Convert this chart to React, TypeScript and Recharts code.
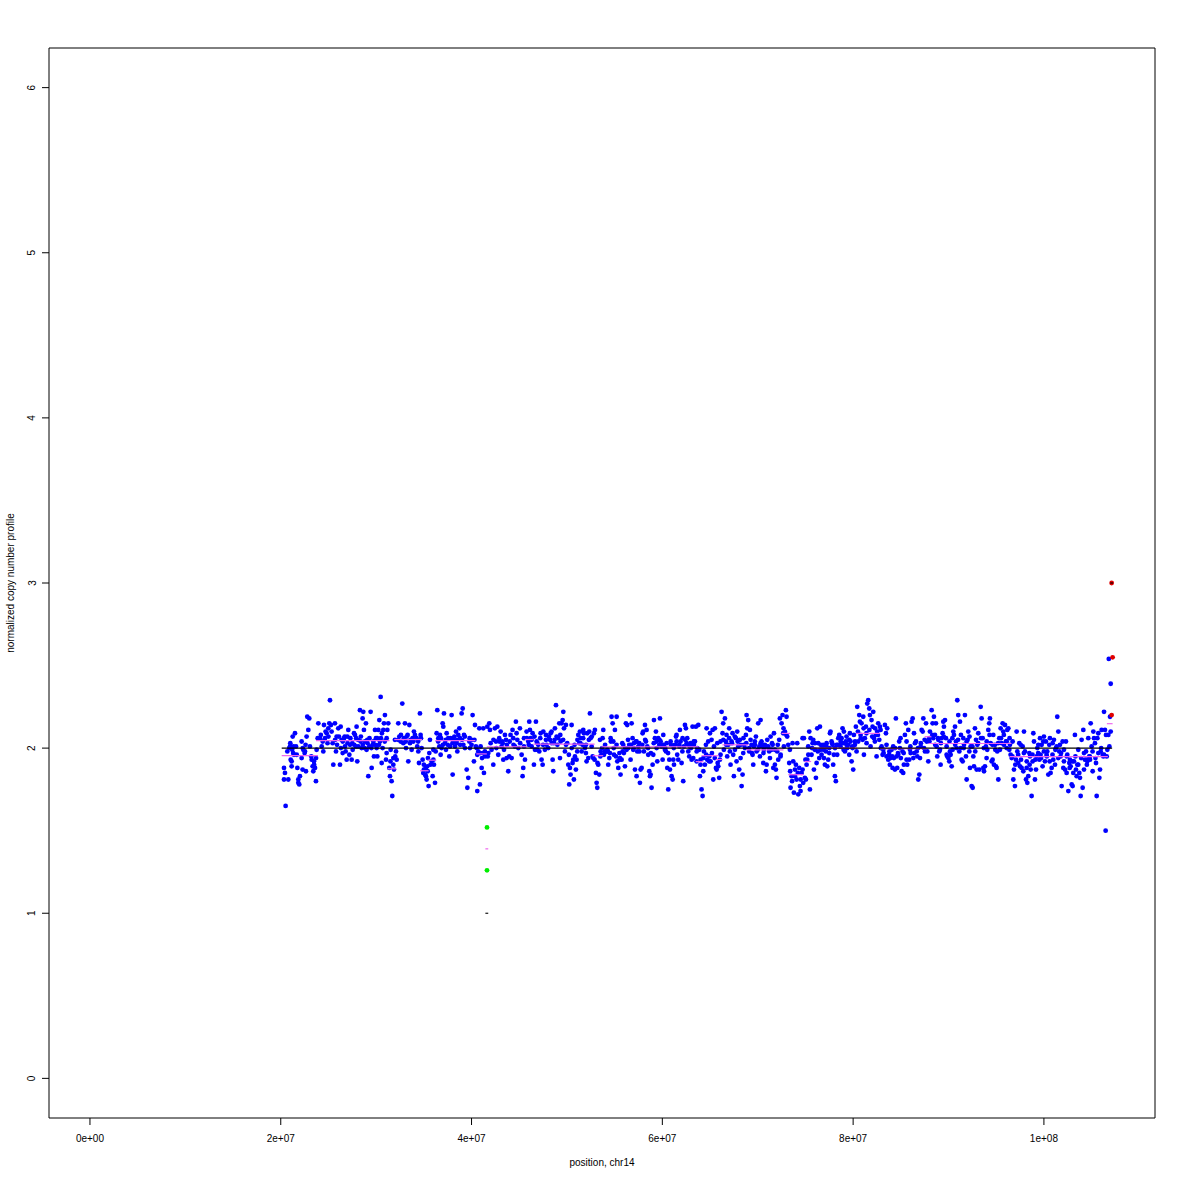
import { ComposedChart, Scatter, XAxis, YAxis, ReferenceArea } from 'recharts';

const FONT = '"Liberation Sans", Arial, Helvetica, sans-serif';

// axis setup (R style: 4% padding around the data range)
const CHR_LENGTH_MB = 107.35;
const X_TICKS = [0, 2e7, 4e7, 6e7, 8e7, 1e8];
const Y_TICKS = [0, 1, 2, 3, 4, 5, 6];

// normalized ratio points, [position in Mb, copy number]
const ratio20to42: [number, number][] = [
  [20.34, 1.88], [20.34, 1.81], [20.51, 1.65], [20.44, 1.85], [20.69, 1.98], [20.79, 1.81], [20.97, 2.01], [21.04, 1.93],
  [21.14, 1.92], [21.14, 1.89], [21.25, 2.07], [21.32, 2.01], [21.39, 1.96], [21.49, 2.09], [21.6, 2.01], [21.67, 1.96],
  [21.74, 1.88], [21.84, 1.81], [21.84, 1.79], [21.94, 1.78], [22.01, 1.83], [22.19, 1.94], [22.19, 2.04], [22.29, 1.87],
  [22.36, 1.99], [22.54, 1.98], [22.64, 1.86], [22.71, 2.07], [22.78, 2.19], [22.89, 2.11], [22.99, 2.18], [23.06, 2.01],
  [23.24, 1.93], [23.34, 1.89], [23.41, 1.86], [23.48, 1.92], [23.59, 1.88], [23.69, 1.8], [23.76, 1.99], [23.87, 2.06],
  [23.94, 2.15], [24.11, 2.06], [24.29, 2.01], [24.46, 1.98], [24.53, 2.14], [24.64, 2.06], [24.81, 2.09], [24.98, 2.12],
  [25.09, 2.15], [25.16, 2.29], [25.26, 2.14], [25.33, 2.1], [25.44, 2.03], [25.51, 1.9], [25.68, 2.15], [25.79, 1.98],
  [25.86, 2.07], [26.03, 2.12], [26.21, 1.9], [26.28, 2.13], [26.38, 2.05], [26.49, 1.97], [26.63, 2.06], [26.73, 2.01],
  [26.91, 1.93], [26.98, 2.07], [27.08, 2.11], [27.19, 1.96], [27.26, 2.02], [27.43, 1.93], [27.54, 1.99], [27.68, 2.09],
  [27.78, 2.08], [27.88, 2.01], [27.95, 2.13], [28.02, 1.92], [28.13, 2.01], [28.3, 2.23], [28.37, 2.04], [28.48, 2.0],
  [28.58, 2.18], [28.65, 2.22], [28.72, 2.11], [28.83, 2.04], [28.93, 2.15], [29.0, 1.99], [29.07, 2.05], [29.18, 1.83],
  [29.28, 2.01], [29.42, 2.22], [29.53, 1.88], [29.63, 2.02], [29.77, 1.95], [29.88, 2.11], [29.98, 2.06], [30.05, 2.0],
  [30.12, 1.95], [30.23, 2.11], [30.33, 2.17], [30.4, 2.04], [30.47, 2.31], [30.58, 1.91], [30.68, 2.0], [30.75, 2.11],
  [30.82, 2.15], [30.92, 2.2], [31.03, 1.93], [31.1, 1.97], [31.17, 2.11], [31.27, 2.15], [31.38, 1.88], [31.45, 1.83],
  [31.52, 1.99], [31.62, 1.8], [31.69, 1.71], [31.8, 1.94], [31.87, 1.87], [31.97, 2.05], [32.08, 1.98], [32.15, 1.93],
  [32.32, 2.15], [32.43, 2.07], [32.57, 2.04], [32.74, 2.27], [32.85, 2.03], [33.02, 2.15], [33.13, 2.0], [33.2, 2.07],
  [33.37, 1.92], [33.48, 2.14], [33.55, 2.03], [33.72, 1.99], [33.82, 2.06], [33.96, 2.1], [34.07, 2.08], [34.24, 2.06],
  [34.31, 2.01], [34.42, 1.98], [34.49, 1.91], [34.59, 2.21], [34.66, 2.08], [34.77, 2.0], [34.87, 1.93], [34.94, 1.85],
  [35.01, 1.87], [35.12, 1.84], [35.22, 1.83], [35.29, 1.81], [35.36, 1.89], [35.43, 1.94], [35.5, 1.77], [35.57, 1.97],
  [35.64, 2.05], [35.82, 1.92], [35.92, 1.83], [35.99, 1.99], [36.06, 1.9], [36.17, 1.79], [36.24, 1.98], [36.34, 2.09],
  [36.41, 2.23], [36.52, 2.06], [36.62, 2.01], [36.69, 2.08], [36.76, 1.96], [36.86, 2.0], [36.97, 2.15], [37.04, 2.13],
  [37.11, 2.21], [37.21, 2.03], [37.32, 1.99], [37.39, 2.09], [37.56, 2.06], [37.67, 1.95], [37.74, 2.01], [37.91, 2.2],
  [38.02, 1.84], [38.09, 2.06], [38.16, 2.04], [38.26, 2.01], [38.37, 2.1], [38.44, 2.03], [38.51, 1.98], [38.61, 2.08],
  [38.72, 2.12], [38.79, 2.06], [38.96, 2.21], [39.07, 2.24], [39.14, 2.02], [39.21, 2.08], [39.31, 2.0], [39.49, 1.87],
  [39.56, 1.76], [39.66, 1.82], [39.77, 2.04], [39.83, 2.0], [40.01, 2.05], [40.11, 2.2], [40.25, 1.92], [40.36, 2.14],
  [40.46, 2.01], [40.53, 2.0], [40.6, 1.74], [40.71, 1.98], [40.81, 2.12], [40.88, 1.78], [40.95, 2.01], [41.06, 1.88],
  [41.16, 1.97], [41.23, 2.12], [41.3, 1.85], [41.41, 1.95], [41.58, 1.96], [41.65, 2.13], [41.76, 1.97], [41.86, 2.15],
];

const ratio42to64: [number, number][] = [
  [41.93, 2.11], [42.1, 1.99], [42.28, 1.9], [42.45, 2.12], [42.56, 2.04], [42.7, 2.13], [42.8, 1.96], [42.91, 2.04],
  [43.05, 2.1], [43.15, 2.01], [43.26, 2.03], [43.33, 1.93], [43.5, 2.08], [43.61, 2.05], [43.68, 1.94], [43.85, 1.86],
  [43.95, 1.95], [44.09, 2.08], [44.2, 1.94], [44.3, 2.11], [44.37, 2.06], [44.55, 2.01], [44.65, 2.16], [44.72, 2.09],
  [44.9, 2.0], [45.07, 2.12], [45.25, 1.96], [45.35, 1.83], [45.42, 1.88], [45.49, 2.01], [45.6, 1.93], [45.77, 2.1],
  [45.95, 2.04], [46.05, 2.16], [46.12, 2.11], [46.19, 2.06], [46.3, 2.01], [46.4, 2.09], [46.54, 1.9], [46.65, 1.99],
  [46.75, 2.16], [46.82, 2.04], [46.89, 1.99], [46.99, 2.02], [47.1, 1.98], [47.24, 2.09], [47.34, 1.93], [47.45, 1.9],
  [47.52, 2.1], [47.69, 1.99], [47.8, 2.08], [47.87, 2.02], [48.04, 2.0], [48.22, 2.05], [48.29, 2.09], [48.39, 2.1],
  [48.5, 1.93], [48.57, 1.86], [48.64, 2.03], [48.74, 2.12], [48.85, 2.26], [48.92, 2.07], [49.09, 2.06], [49.2, 2.15],
  [49.27, 1.94], [49.34, 2.04], [49.44, 2.15], [49.55, 2.17], [49.62, 2.22], [49.69, 2.12], [49.79, 1.98], [49.89, 2.14],
  [50.03, 2.03], [50.14, 1.9], [50.24, 1.78], [50.31, 1.88], [50.38, 1.84], [50.49, 2.14], [50.59, 1.91], [50.66, 1.93],
  [50.73, 1.81], [50.84, 1.95], [50.94, 1.87], [51.01, 1.93], [51.08, 1.98], [51.19, 2.08], [51.29, 2.03], [51.36, 2.1],
  [51.43, 2.06], [51.54, 1.98], [51.64, 2.02], [51.71, 2.11], [51.78, 2.09], [51.89, 2.0], [51.99, 1.97], [52.06, 1.92],
  [52.13, 2.09], [52.24, 1.94], [52.34, 2.1], [52.41, 2.21], [52.48, 2.06], [52.59, 2.01], [52.69, 1.95], [52.76, 1.94],
  [52.83, 2.09], [52.93, 2.11], [53.04, 1.85], [53.11, 1.79], [53.18, 1.76], [53.28, 1.9], [53.39, 1.84], [53.46, 2.05],
  [53.53, 1.98], [53.63, 1.96], [53.74, 2.06], [53.81, 2.11], [53.88, 1.96], [53.98, 1.98], [54.09, 1.98], [54.16, 1.98],
  [54.23, 1.99], [54.33, 1.9], [54.44, 1.94], [54.51, 1.97], [54.58, 2.06], [54.68, 2.19], [54.79, 2.15], [54.86, 2.04],
  [54.93, 1.96], [55.03, 2.11], [55.14, 1.95], [55.21, 2.19], [55.28, 1.92], [55.38, 1.88], [55.49, 1.93], [55.56, 1.94],
  [55.62, 1.84], [55.73, 1.93], [55.83, 1.98], [55.9, 2.02], [55.97, 1.97], [56.08, 1.89], [56.18, 2.15], [56.25, 1.99],
  [56.32, 2.14], [56.43, 2.0], [56.53, 2.02], [56.6, 2.2], [56.67, 1.93], [56.78, 2.15], [56.88, 2.06], [56.95, 1.99],
  [57.02, 2.03], [57.13, 1.87], [57.23, 2.04], [57.3, 1.83], [57.37, 1.98], [57.48, 2.01], [57.58, 2.03], [57.65, 1.79],
  [57.72, 1.87], [57.83, 1.88], [57.93, 2.09], [58.0, 2.1], [58.07, 1.98], [58.18, 2.14], [58.28, 2.04], [58.35, 2.11],
  [58.42, 2.01], [58.52, 1.96], [58.63, 1.86], [58.7, 1.83], [58.77, 1.84], [58.87, 1.76], [58.98, 1.9], [59.05, 1.96],
  [59.12, 2.17], [59.22, 2.06], [59.33, 2.1], [59.4, 2.04], [59.47, 1.92], [59.57, 2.06], [59.68, 2.02], [59.75, 2.18],
  [59.82, 2.04], [59.92, 2.01], [60.03, 1.93], [60.1, 2.08], [60.17, 2.02], [60.27, 1.99], [60.38, 1.98], [60.45, 2.03],
  [60.52, 1.88], [60.62, 1.75], [60.73, 1.93], [60.8, 1.87], [60.87, 2.04], [60.97, 1.83], [61.08, 1.81], [61.15, 1.93],
  [61.22, 1.9], [61.32, 2.02], [61.43, 2.07], [61.49, 2.08], [61.56, 1.96], [61.67, 1.93], [61.77, 2.02], [61.84, 2.11],
  [61.91, 2.04], [62.02, 1.91], [62.12, 2.06], [62.19, 1.8], [62.26, 2.01], [62.37, 2.14], [62.47, 2.12], [62.54, 2.03],
  [62.61, 2.06], [62.72, 1.98], [62.82, 1.95], [62.89, 2.01], [62.96, 2.03], [63.07, 1.93], [63.17, 2.13], [63.24, 1.94],
  [63.31, 2.02], [63.42, 2.04], [63.52, 2.13], [63.59, 1.92], [63.66, 2.0], [63.77, 2.14], [63.87, 1.99],
];

const ratio64to86: [number, number][] = [
  [63.94, 1.83], [64.01, 1.93], [64.11, 1.75], [64.22, 1.71], [64.29, 1.86], [64.36, 1.98], [64.46, 1.9], [64.57, 2.02],
  [64.64, 2.12], [64.71, 1.93], [64.81, 2.04], [64.92, 1.95], [64.99, 2.09], [65.06, 1.92], [65.16, 2.05], [65.27, 2.11],
  [65.34, 1.81], [65.41, 2.01], [65.51, 2.12], [65.62, 1.88], [65.69, 1.87], [65.76, 2.03], [65.86, 1.89], [65.96, 1.82],
  [66.03, 1.93], [66.1, 2.04], [66.21, 2.22], [66.31, 2.09], [66.38, 2.15], [66.45, 1.99], [66.56, 2.18], [66.66, 2.04],
  [66.73, 2.08], [66.8, 1.95], [66.91, 2.02], [67.01, 2.12], [67.08, 1.98], [67.15, 1.9], [67.26, 2.04], [67.36, 2.09],
  [67.43, 1.96], [67.5, 1.83], [67.61, 1.99], [67.71, 2.06], [67.78, 1.92], [67.85, 2.1], [67.96, 2.01], [68.06, 1.87],
  [68.13, 2.05], [68.2, 1.94], [68.31, 1.77], [68.41, 1.84], [68.48, 1.97], [68.55, 2.02], [68.66, 2.0], [68.76, 2.08],
  [68.83, 2.2], [68.9, 2.12], [69.0, 2.17], [69.11, 1.98], [69.18, 2.11], [69.25, 2.05], [69.35, 2.02], [69.46, 1.96],
  [69.53, 1.9], [69.6, 2.01], [69.7, 2.04], [69.81, 2.07], [69.88, 1.98], [70.05, 2.15], [70.16, 2.01], [70.23, 1.95],
  [70.3, 2.17], [70.4, 2.04], [70.51, 2.01], [70.58, 1.91], [70.65, 1.99], [70.75, 2.02], [70.86, 1.86], [70.93, 1.9],
  [71.0, 2.05], [71.1, 2.01], [71.21, 1.99], [71.28, 1.94], [71.35, 2.07], [71.45, 1.99], [71.56, 2.02], [71.63, 1.88],
  [71.7, 2.09], [71.8, 1.9], [71.9, 1.87], [71.97, 1.82], [72.04, 1.98], [72.15, 1.93], [72.25, 2.05], [72.32, 2.18],
  [72.39, 1.95], [72.5, 2.15], [72.6, 2.2], [72.67, 2.09], [72.74, 2.01], [72.85, 2.1], [72.95, 2.23], [73.02, 2.19],
  [73.09, 2.07], [73.2, 2.02], [73.3, 1.91], [73.37, 1.99], [73.44, 1.76], [73.55, 1.83], [73.65, 2.03], [73.72, 1.92],
  [73.79, 1.73], [73.9, 1.87], [74.0, 1.9], [74.07, 1.81], [74.14, 2.03], [74.25, 1.72], [74.35, 1.88], [74.42, 1.77],
  [74.49, 1.74], [74.6, 1.85], [74.7, 2.06], [74.77, 1.79], [74.84, 2.06], [74.94, 1.82], [75.05, 1.81], [75.12, 1.9],
  [75.19, 1.93], [75.29, 2.01], [75.4, 2.1], [75.47, 1.75], [75.54, 2.06], [75.64, 1.96], [75.75, 2.03], [75.82, 2.05],
  [75.89, 1.87], [75.99, 1.99], [76.1, 1.82], [76.17, 1.91], [76.24, 2.12], [76.34, 2.03], [76.45, 1.94], [76.52, 2.13],
  [76.59, 1.99], [76.69, 1.96], [76.8, 2.01], [76.87, 2.02], [76.94, 1.94], [77.04, 1.9], [77.15, 1.98], [77.22, 2.03],
  [77.29, 1.89], [77.39, 1.93], [77.5, 2.0], [77.57, 2.09], [77.63, 2.1], [77.74, 2.04], [77.84, 2.02], [77.91, 1.9],
  [77.98, 1.96], [78.09, 1.83], [78.19, 1.8], [78.26, 2.02], [78.33, 1.96], [78.44, 2.06], [78.54, 2.08], [78.61, 2.02],
  [78.68, 2.01], [78.79, 2.06], [78.89, 2.12], [78.96, 2.03], [79.03, 2.1], [79.14, 1.98], [79.24, 2.04], [79.31, 2.07],
  [79.38, 2.0], [79.49, 2.02], [79.59, 1.96], [79.66, 2.09], [79.73, 2.04], [79.84, 1.92], [79.94, 2.0], [80.01, 1.87],
  [80.08, 2.08], [80.19, 2.02], [80.29, 2.13], [80.36, 1.98], [80.43, 2.25], [80.53, 2.04], [80.64, 2.2], [80.71, 2.16],
  [80.78, 2.08], [80.88, 2.15], [80.99, 2.05], [81.06, 2.19], [81.13, 1.96], [81.23, 2.06], [81.34, 2.13], [81.41, 2.03],
  [81.48, 2.27], [81.58, 2.29], [81.69, 2.24], [81.76, 2.2], [81.83, 2.01], [81.93, 2.17], [82.04, 2.13], [82.11, 2.22],
  [82.18, 2.06], [82.28, 2.04], [82.39, 2.08], [82.46, 1.95], [82.53, 2.1], [82.63, 2.15], [82.74, 2.05], [82.81, 2.13],
  [82.88, 2.11], [82.98, 2.01], [83.09, 1.96], [83.16, 1.99], [83.33, 2.14], [83.44, 2.09], [83.5, 1.95], [83.57, 2.12],
  [83.68, 1.93], [83.78, 1.96], [83.85, 1.9], [83.92, 1.94], [84.03, 1.99], [84.13, 1.88], [84.2, 2.01], [84.27, 1.94],
  [84.38, 1.87], [84.48, 2.18], [84.55, 1.95], [84.62, 1.88], [84.73, 1.96], [84.83, 2.04], [84.9, 2.0], [84.97, 2.06],
  [85.08, 1.86], [85.18, 1.98], [85.25, 1.85], [85.32, 1.9], [85.43, 2.08], [85.53, 2.15], [85.6, 2.04], [85.67, 1.9],
  [85.78, 2.11], [85.88, 1.93],
];

const ratio86to107: [number, number][] = [
  [85.96, 1.99], [86.03, 1.97], [86.13, 2.16], [86.24, 2.18], [86.31, 1.94], [86.38, 2.09], [86.48, 2.03], [86.59, 2.04],
  [86.66, 1.98], [86.73, 1.95], [86.83, 1.81], [86.94, 1.84], [87.01, 1.94], [87.08, 2.01], [87.18, 2.11], [87.29, 2.1],
  [87.36, 2.18], [87.43, 2.0], [87.53, 1.98], [87.64, 2.15], [87.71, 2.04], [87.78, 1.98], [87.88, 1.92], [87.98, 2.06],
  [88.05, 2.1], [88.23, 2.23], [88.33, 2.15], [88.4, 2.06], [88.47, 2.19], [88.58, 2.08], [88.68, 2.15], [88.75, 2.01],
  [88.82, 1.95], [88.93, 2.05], [89.03, 1.98], [89.1, 1.99], [89.17, 1.9], [89.28, 2.06], [89.38, 2.09], [89.45, 2.16],
  [89.52, 2.13], [89.63, 2.17], [89.73, 2.06], [89.8, 1.96], [89.87, 1.95], [89.98, 1.94], [90.08, 1.92], [90.15, 1.98],
  [90.22, 1.96], [90.33, 1.89], [90.43, 1.99], [90.5, 2.1], [90.57, 2.08], [90.68, 2.13], [90.78, 2.04], [90.85, 2.0],
  [90.92, 2.29], [91.02, 2.2], [91.13, 1.98], [91.2, 2.16], [91.27, 2.0], [91.37, 1.93], [91.48, 1.92], [91.55, 2.06],
  [91.62, 2.02], [91.72, 2.2], [91.83, 1.95], [91.9, 1.81], [92.0, 2.05], [92.07, 2.1], [92.18, 1.98], [92.25, 1.88],
  [92.32, 2.01], [92.42, 1.77], [92.53, 1.76], [92.6, 1.95], [92.67, 1.89], [92.77, 2.12], [92.88, 2.05], [92.95, 1.87],
  [93.02, 2.02], [93.12, 2.09], [93.23, 1.87], [93.37, 2.25], [93.47, 2.18], [93.58, 2.06], [93.65, 1.88], [93.72, 1.86],
  [93.82, 1.89], [93.92, 2.01], [93.99, 1.94], [94.06, 1.99], [94.17, 2.11], [94.27, 2.15], [94.34, 2.18], [94.41, 2.03],
  [94.52, 1.92], [94.62, 1.93], [94.69, 2.08], [94.76, 1.9], [94.87, 2.02], [94.97, 1.89], [95.04, 1.88], [95.11, 1.98],
  [95.22, 1.81], [95.32, 2.06], [95.39, 1.99], [95.46, 2.12], [95.57, 2.03], [95.67, 2.15], [95.74, 2.1], [95.81, 2.02],
  [95.92, 2.14], [96.02, 2.04], [96.09, 2.0], [96.16, 2.11], [96.27, 2.12], [96.37, 1.99], [96.44, 2.02], [96.51, 1.96],
  [96.62, 1.94], [96.72, 2.04], [96.79, 1.81], [96.86, 1.87], [96.96, 1.77], [97.07, 1.93], [97.14, 2.1], [97.21, 1.98],
  [97.31, 1.91], [97.42, 2.03], [97.49, 1.89], [97.56, 2.02], [97.66, 1.88], [97.77, 2.01], [97.84, 1.86], [97.91, 2.1],
  [98.01, 1.98], [98.12, 1.81], [98.19, 1.88], [98.26, 1.79], [98.36, 1.83], [98.47, 1.97], [98.54, 1.95], [98.61, 1.87],
  [98.71, 1.71], [98.82, 1.92], [98.89, 2.09], [98.96, 2.04], [99.06, 1.81], [99.17, 1.87], [99.24, 1.95], [99.31, 2.0],
  [99.41, 2.02], [99.52, 1.93], [99.59, 2.06], [99.65, 1.96], [99.76, 2.02], [99.86, 1.89], [99.93, 2.04], [100.0, 2.07],
  [100.11, 1.92], [100.21, 2.04], [100.28, 1.96], [100.35, 1.98], [100.46, 1.84], [100.56, 2.02], [100.63, 2.06], [100.7, 1.85],
  [100.81, 1.88], [100.91, 2.03], [100.98, 1.93], [101.05, 2.05], [101.16, 1.9], [101.26, 2.0], [101.33, 2.01], [101.4, 2.19],
  [101.51, 2.1], [101.61, 1.98], [101.68, 2.02], [101.75, 1.95], [101.86, 1.77], [101.96, 2.04], [102.03, 1.88], [102.1, 1.99],
  [102.21, 1.87], [102.31, 2.04], [102.38, 1.85], [102.45, 1.96], [102.56, 1.74], [102.66, 1.91], [102.73, 1.93], [102.8, 1.89],
  [102.91, 1.78], [103.01, 1.77], [103.08, 1.85], [103.15, 1.92], [103.25, 2.08], [103.36, 1.87], [103.43, 1.83], [103.5, 1.9],
  [103.6, 1.99], [103.71, 1.85], [103.78, 1.82], [103.85, 1.71], [103.95, 2.05], [104.06, 1.76], [104.13, 2.11], [104.2, 1.87],
  [104.3, 1.93], [104.41, 1.98], [104.48, 1.93], [104.55, 1.92], [104.65, 2.06], [104.76, 1.95], [104.83, 1.93], [104.9, 2.15],
  [105.0, 2.01], [105.11, 1.86], [105.18, 2.1], [105.25, 2.06], [105.35, 2.03], [105.46, 1.91], [105.53, 1.71], [105.6, 2.06],
  [105.7, 2.09], [105.81, 1.82], [105.88, 1.87], [105.95, 1.98], [106.05, 2.11], [106.16, 1.96], [106.23, 1.95], [106.3, 2.22],
  [106.4, 2.11], [106.47, 1.5], [106.51, 2.08], [106.58, 1.95], [106.65, 1.99], [106.75, 2.08], [106.8, 2.54], [106.86, 2.01],
  [106.93, 2.19], [107.0, 2.1], [107.0, 2.39],
];

// points from the crowded middle of the band, read cluster by cluster
const band20to64: [number, number][] = [
  [20.9, 2.0], [21.0, 2.03], [21.2, 1.99], [21.3, 1.97], [22.3, 2.0], [22.5, 1.97], [22.6, 2.02], [23.2, 1.95],
  [23.5, 1.9], [23.7, 1.94], [24.2, 2.08], [24.4, 2.04], [24.7, 2.1], [24.9, 2.03], [25.0, 2.07], [25.7, 2.05],
  [25.9, 2.02], [26.1, 2.07], [26.3, 2.0], [26.5, 2.04], [26.7, 2.07], [26.8, 1.98], [27.0, 2.03], [27.3, 2.06],
  [27.5, 2.03], [27.7, 2.02], [27.9, 2.06], [28.1, 2.05], [28.4, 2.07], [28.6, 2.02], [28.8, 2.0], [29.1, 2.03],
  [29.3, 2.06], [29.5, 2.0], [29.7, 2.04], [29.9, 2.02], [30.1, 2.06], [30.3, 2.02], [30.5, 2.06], [30.6, 2.09],
  [30.9, 2.04], [31.1, 2.06], [31.5, 1.92], [31.8, 1.9], [32.0, 1.95], [32.3, 2.05], [32.6, 2.08], [32.9, 2.06],
  [33.1, 2.04], [33.3, 2.08], [33.6, 2.05], [33.9, 2.04], [34.1, 2.06], [34.4, 2.04], [34.7, 2.06], [35.0, 1.9],
  [35.2, 1.88], [35.4, 1.86], [35.7, 1.9], [36.0, 1.93], [36.5, 2.04], [36.8, 2.06], [37.0, 2.02], [37.3, 2.05],
  [37.5, 2.02], [37.8, 2.06], [38.0, 2.03], [38.2, 2.07], [38.5, 2.05], [38.8, 2.02], [39.0, 2.05], [39.3, 2.07],
  [39.8, 2.06], [40.0, 2.02], [40.3, 2.05], [40.6, 1.96], [40.9, 1.97], [41.1, 1.94], [41.4, 1.98], [41.7, 1.95],
  [42.0, 2.03], [42.3, 2.05], [42.6, 2.0], [42.9, 2.06], [43.2, 2.04], [43.4, 1.99], [43.7, 2.02], [44.0, 2.04],
  [44.4, 2.02], [44.8, 2.05], [45.1, 2.03], [45.5, 2.06], [45.8, 2.06], [46.0, 2.02], [46.3, 2.05], [46.6, 2.07],
  [46.9, 2.03], [47.2, 2.06], [47.5, 2.02], [47.8, 2.05], [48.1, 2.07], [48.4, 2.03], [48.7, 2.05], [49.0, 2.02],
  [49.3, 2.08], [49.6, 2.05], [49.9, 2.02], [50.2, 1.96], [50.5, 2.0], [50.8, 2.02], [51.1, 2.05], [51.4, 2.03],
  [51.7, 2.06], [52.0, 2.02], [52.3, 2.05], [52.6, 2.07], [52.9, 1.93], [53.2, 1.91], [53.5, 1.95], [53.7, 2.0],
  [54.0, 2.02], [54.3, 1.98], [54.6, 2.04], [54.9, 2.0], [55.2, 2.02], [55.5, 1.97], [55.8, 2.03], [56.1, 2.0],
  [56.4, 2.05], [56.7, 2.02], [57.0, 2.0], [57.3, 2.04], [57.6, 1.98], [57.9, 2.02], [58.2, 2.05], [58.5, 2.0],
  [58.8, 1.97], [59.1, 2.03], [59.4, 2.0], [59.7, 2.05], [60.0, 2.02], [60.3, 2.0], [60.6, 1.97], [60.9, 2.02],
  [61.2, 2.0], [61.5, 2.04], [61.8, 2.01], [62.1, 1.98], [62.4, 2.05], [62.7, 2.02], [63.0, 2.0], [63.3, 2.04],
  [63.6, 1.98],
];

const band64to107: [number, number][] = [
  [64.0, 1.9], [64.3, 1.94], [64.6, 1.96], [64.9, 1.92], [65.2, 1.97], [65.5, 1.94], [65.8, 1.91], [66.1, 1.96],
  [66.4, 2.05], [66.7, 2.02], [67.0, 2.06], [67.3, 2.03], [67.6, 2.07], [67.9, 2.04], [68.2, 2.02], [68.5, 2.06],
  [68.8, 2.03], [69.1, 2.0], [69.4, 1.97], [69.7, 2.02], [70.0, 1.99], [70.3, 2.03], [70.6, 1.97], [70.9, 2.01],
  [71.2, 1.98], [71.5, 2.03], [71.8, 1.99], [72.1, 2.02], [72.4, 1.96], [72.7, 2.12], [73.0, 2.08], [73.4, 1.86],
  [73.6, 1.8], [73.9, 1.83], [74.2, 1.85], [74.5, 1.81], [74.7, 1.87], [75.0, 1.93], [75.3, 1.96], [75.7, 2.0],
  [76.0, 2.03], [76.3, 1.98], [76.6, 2.02], [76.9, 1.99], [77.2, 2.01], [77.5, 1.97], [77.8, 2.03], [78.1, 2.0],
  [78.4, 2.02], [78.7, 2.04], [79.0, 1.99], [79.3, 2.02], [79.6, 2.05], [79.9, 2.01], [80.2, 2.04], [80.5, 2.1],
  [80.8, 2.06], [81.1, 2.12], [81.4, 2.09], [81.7, 2.11], [82.0, 2.07], [82.3, 2.12], [82.6, 2.08], [82.9, 2.0],
  [83.2, 1.97], [83.5, 2.02], [83.8, 1.98], [84.1, 1.95], [84.4, 2.0], [84.7, 1.97], [85.0, 1.94], [85.3, 1.97],
  [85.6, 1.93], [86.0, 2.01], [86.4, 1.97], [86.8, 2.0], [87.1, 2.03], [87.5, 2.05], [88.0, 2.04], [88.3, 2.08],
  [88.6, 2.02], [88.9, 2.06], [89.2, 2.03], [89.5, 2.07], [89.8, 2.01], [90.1, 2.04], [90.4, 2.06], [90.7, 2.02],
  [91.0, 2.05], [91.3, 2.08], [91.6, 2.0], [91.9, 2.04], [92.2, 2.07], [92.5, 2.01], [92.8, 1.98], [93.1, 2.03],
  [93.4, 2.06], [93.7, 2.0], [94.0, 2.04], [94.3, 2.08], [94.6, 2.02], [94.9, 1.99], [95.2, 2.03], [95.5, 2.06],
  [95.8, 2.08], [96.1, 2.04], [96.4, 2.06], [96.7, 1.95], [97.0, 1.9], [97.3, 1.96], [97.6, 1.93], [97.9, 1.97],
  [98.2, 1.92], [98.5, 1.9], [98.8, 1.96], [99.1, 1.93], [99.4, 1.97], [99.7, 1.94], [100.0, 1.98], [100.3, 1.95],
  [100.6, 1.92], [100.9, 1.96], [101.2, 1.99], [101.5, 1.94], [101.8, 1.97], [102.1, 1.92], [102.4, 1.95], [102.7, 1.88],
  [103.0, 1.92], [103.3, 1.95], [103.6, 1.9], [103.9, 1.94], [104.2, 1.97], [104.5, 1.9], [104.8, 1.95], [105.1, 1.98],
  [105.4, 1.94], [105.7, 1.97], [106.0, 2.0], [106.3, 1.96],
];

// points called as loss / gain
const lossPoints: [number, number][] = [[41.62, 1.52], [41.62, 1.26]];
const gainPoints: [number, number][] = [[107.1, 3.0], [107.2, 2.55], [107.1, 2.2]];

// segment means, [start Mb, end Mb, level]
const segmentMeans: [number, number, number][] = [
  [20.1, 23.9, 1.954], [23.7, 31.4, 2.045], [31.2, 32.1, 1.875], [31.9, 34.8, 2.052], [34.6, 35.5, 1.863],
  [35.4, 36.3, 1.927], [36.2, 40.4, 2.045], [40.5, 41.6, 1.965], [41.6, 45.8, 2.008], [45.6, 46.5, 2.052],
  [46.5, 52.9, 2.024], [52.7, 53.8, 1.954], [53.6, 63.8, 2.008], [63.5, 64.3, 1.918], [64.1, 65.9, 1.954],
  [65.6, 66.3, 1.931], [66.3, 69.0, 2.02], [68.8, 72.7, 1.99], [72.5, 73.4, 2.089], [73.2, 74.8, 1.839],
  [74.9, 75.6, 1.919], [75.6, 80.4, 2.0], [80.3, 82.8, 2.089], [82.8, 87.7, 1.997], [87.5, 88.2, 2.069],
  [87.9, 96.6, 2.028], [96.4, 106.7, 1.948], [106.6, 107.2, 2.148], [41.45, 41.75, 1.39],
];

// copy number calls, [start Mb, end Mb, copies]
const copyNumberCalls: [number, number, number][] = [
  [20.1, 107.15, 2], [41.45, 41.75, 1], [106.95, 107.25, 3],
];

const toPoints = (rows: [number, number][]) => rows.map(([mb, v]) => ({ x: mb * 1e6, y: v }));
const toSegment = ([s, e, v]: [number, number, number]) => [
  { x: s * 1e6, y: v },
  { x: e * 1e6, y: v },
];

const ratioPoints = toPoints([
  ...ratio20to42, ...ratio42to64, ...ratio64to86, ...ratio86to107, ...band20to64, ...band64to107,
]);
const lossData = toPoints(lossPoints);
const gainData = toPoints(gainPoints);

const X_DOMAIN = [-0.04 * CHR_LENGTH_MB * 1e6, 1.04 * CHR_LENGTH_MB * 1e6];
const Y_DOMAIN = [-0.24, 6.24];

// R style scientific labels: 0e+00, 2e+07, 1e+08
const sci = (v: number) => {
  if (v === 0) return '0e+00';
  const e = Math.floor(Math.log10(v));
  const m = Math.round(v / 10 ** e);
  return `${m}e+${String(e).padStart(2, '0')}`;
};

const dot = (color: string) => (props: any) => (
  <circle cx={props.cx} cy={props.cy} r={2.4} fill={color} />
);
const noDot = () => <g />;

const YTick = ({ x, y, payload }: any) => (
  <text
    x={x}
    y={y}
    transform={`rotate(-90 ${x} ${y})`}
    textAnchor="middle"
    dy="0.35em"
    fontSize={10}
    fontFamily={FONT}
    fill="#000"
  >
    {payload.value}
  </text>
);

export default function App() {
  return (
    <div style={{ position: 'absolute', left: 0, top: 0, background: '#fff' }}>
      <ComposedChart
        width={1180}
        height={1180}
        margin={{ top: 48, right: 25, bottom: 0, left: 0 }}
      >
        <XAxis
          type="number"
          dataKey="x"
          domain={X_DOMAIN}
          allowDataOverflow
          ticks={X_TICKS}
          interval={0}
          tickFormatter={sci}
          axisLine={false}
          tickLine={{ stroke: '#000' }}
          tickSize={7}
          tickMargin={10}
          height={62}
          tick={{ fill: '#000', fontSize: 10, fontFamily: FONT }}
          label={{
            value: 'position, chr14',
            position: 'insideBottom',
            offset: 14,
            fill: '#000',
            fontSize: 10,
            fontFamily: FONT,
          }}
        />
        <YAxis
          type="number"
          dataKey="y"
          domain={Y_DOMAIN}
          allowDataOverflow
          ticks={Y_TICKS}
          interval={0}
          axisLine={false}
          tickLine={{ stroke: '#000' }}
          tickSize={7}
          tickMargin={10}
          width={49}
          tick={<YTick />}
          label={{
            value: 'normalized copy number profile',
            angle: -90,
            position: 'insideLeft',
            offset: 10,
            fill: '#000',
            fontSize: 10,
            fontFamily: FONT,
            style: { textAnchor: 'middle' },
          }}
        />

        {/* plot box */}
        <ReferenceArea
          x1={X_DOMAIN[0]}
          x2={X_DOMAIN[1]}
          y1={Y_DOMAIN[0]}
          y2={Y_DOMAIN[1]}
          fill="none"
          fillOpacity={0}
          stroke="#000"
          strokeWidth={1}
          ifOverflow="visible"
        />

        <Scatter data={ratioPoints} fill="#0000ff" shape={dot('#0000ff')} isAnimationActive={false} />
        <Scatter data={lossData} fill="#00ee00" shape={dot('#00ee00')} isAnimationActive={false} />
        <Scatter data={gainData} fill="#e00000" shape={dot('#e00000')} isAnimationActive={false} />

        {/* segment means drawn over the points */}
        {segmentMeans.map((seg, i) => (
          <Scatter
            key={`seg-${i}`}
            data={toSegment(seg)}
            line={{ stroke: '#ee66ee', strokeWidth: 1.2 }}
            shape={noDot}
            isAnimationActive={false}
          />
        ))}
        {copyNumberCalls.map((seg, i) => (
          <Scatter
            key={`cn-${i}`}
            data={toSegment(seg)}
            line={{ stroke: '#000', strokeWidth: 1.1 }}
            shape={noDot}
            isAnimationActive={false}
          />
        ))}
      </ComposedChart>
    </div>
  );
}
